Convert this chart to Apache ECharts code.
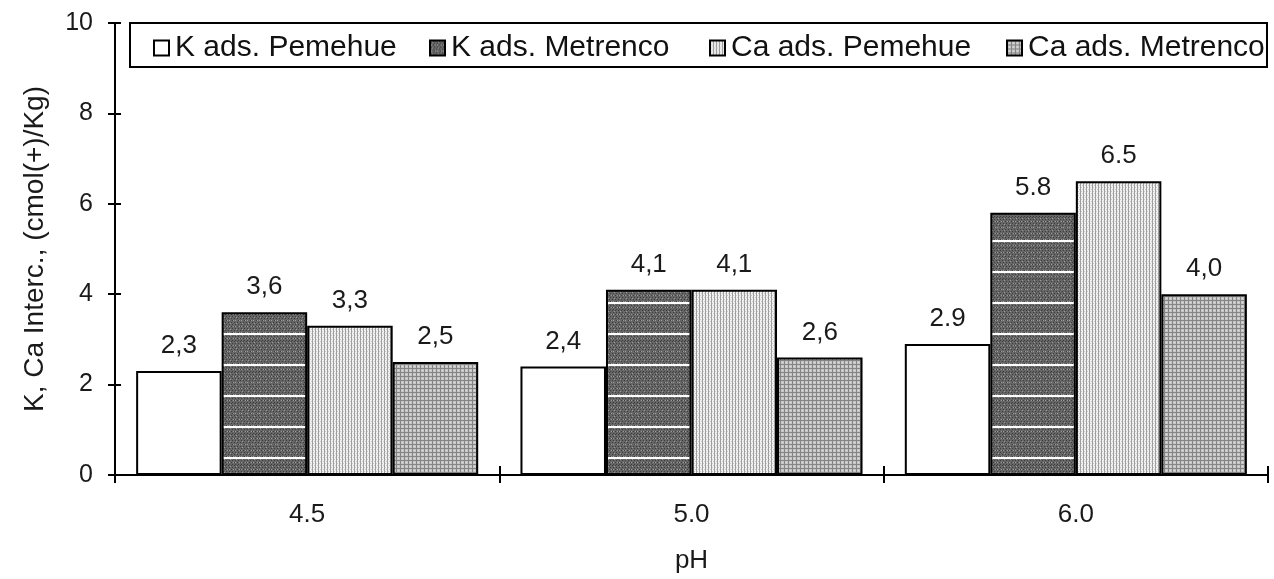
<!DOCTYPE html>
<html><head><meta charset="utf-8">
<script src="https://cdn.jsdelivr.net/npm/echarts@6/dist/echarts.min.js"></script>
<style>html,body{margin:0;padding:0;background:#fff}#c{width:1274px;height:579px}</style>
</head><body><div id="c"></div>
<script>
const categories = ['4.5', '5.0', '6.0'];
const seriesNames = ['K ads. Pemehue', 'K ads. Metrenco', 'Ca ads. Pemehue', 'Ca ads. Metrenco'];
const kPemehue = [2.3, 2.4, 2.9];
const kMetrenco = [3.6, 4.1, 5.8];
const caPemehue = [3.3, 4.1, 6.5];
const caMetrenco = [2.5, 2.6, 4.0];
const kPemehueLabels = ['2,3', '2,4', '2.9'];
const kMetrencoLabels = ['3,6', '4,1', '5.8'];
const caPemehueLabels = ['3,3', '4,1', '6.5'];
const caMetrencoLabels = ['2,5', '2,6', '4,0'];
const yTicks = [0, 2, 4, 6, 8, 10];

const FONT = 'Liberation Sans, Arial, sans-serif';
function pat(w, h, draw) {
  const c = document.createElement('canvas'); c.width = w; c.height = h;
  const g = c.getContext('2d'); draw(g, w, h); return c;
}
const p1 = '#ffffff';
const p2 = pat(6, 31, (g, w, h) => {
  g.fillStyle = '#666666'; g.fillRect(0, 0, w, h);
  g.fillStyle = '#3e3e3e';
  for (let y = 0; y < h; y += 2) for (let x = (y % 4 === 0 ? 0 : 1); x < w; x += 3) g.fillRect(x, y, 1, 1);
  g.fillStyle = '#9c9c9c';
  for (let y = 1; y < h; y += 3) for (let x = (y % 2) + 1; x < w; x += 4) g.fillRect(x, y, 1, 1);
  g.fillStyle = '#ffffff'; g.fillRect(0, 23, w, 2);
});
const p3 = pat(3, 4, (g, w, h) => {
  g.fillStyle = '#f2f2f2'; g.fillRect(0, 0, w, h);
  g.fillStyle = '#9f9f9f'; g.fillRect(0, 0, 1, h);
  g.fillStyle = '#cccccc'; g.fillRect(2, 1, 1, 1); g.fillRect(1, 3, 1, 1);
});
const p4 = pat(4, 4, (g, w, h) => {
  g.fillStyle = '#c6c6c6'; g.fillRect(0, 0, w, h);
  g.fillStyle = '#858585'; g.fillRect(0, 0, w, 1); g.fillRect(0, 0, 1, h);
  g.fillStyle = '#e0e0e0'; g.fillRect(2, 2, 1, 1);
});

function mk(name, data, labels, fill) {
  return {
    name, type: 'bar', data, barGap: '0%', barCategoryGap: '11%',
    itemStyle: { color: typeof fill === 'string' ? fill : { image: fill, repeat: 'repeat' }, borderColor: '#000', borderWidth: 2 },
    label: { show: true, position: 'top', distance: 12, fontFamily: FONT, fontSize: 26, color: '#1a1a1a',
      formatter: p => labels[p.dataIndex] }
  };
}
const legendLefts = [148, 424, 704, 1001];
const legends = seriesNames.map((n, i) => ({
  left: legendLefts[i], top: 28, itemWidth: 15, itemHeight: 15, itemGap: 0, icon: 'rect',
  textStyle: { fontFamily: FONT, fontSize: 30, color: '#111', padding: [0, 0, 0, 1] },
  data: [n]
}));

const chart = echarts.init(document.getElementById('c'));
chart.setOption({
  animation: false,
  grid: { left: 115, right: 6, top: 23, bottom: 101 },
  graphic: [{ type: 'rect', shape: { x: 130, y: 23, width: 1137, height: 44 }, style: { fill: 'none', stroke: '#000', lineWidth: 2 }, z: 10 }],
  legend: legends,
  xAxis: [{
    type: 'category', data: categories,
    axisLine: { lineStyle: { color: '#000', width: 2 } },
    axisTick: { show: true, length: 8, lineStyle: { color: '#000', width: 2 } },
    axisLabel: { fontFamily: FONT, fontSize: 26, color: '#1a1a1a', margin: 27 },
    name: 'pH', nameLocation: 'middle', nameGap: 73,
    nameTextStyle: { fontFamily: FONT, fontSize: 26, color: '#1a1a1a' }
  }, {
    type: 'category', data: categories, position: 'bottom',
    axisLine: { show: false },
    axisTick: { show: true, inside: true, length: 9, lineStyle: { color: '#000', width: 2 } },
    axisLabel: { show: false }
  }],
  yAxis: [{
    type: 'value', min: 0, max: 10, interval: 2,
    splitLine: { show: false },
    axisLine: { show: true, lineStyle: { color: '#000', width: 2 } },
    axisTick: { show: true, length: 7, lineStyle: { color: '#000', width: 2 } },
    axisLabel: { fontFamily: FONT, fontSize: 25, color: '#1a1a1a', margin: 22,
      formatter: v => yTicks.includes(v) ? String(v) : '' },
    name: 'K, Ca Interc., (cmol(+)/Kg)', nameLocation: 'middle', nameGap: 66,
    nameTextStyle: { fontFamily: FONT, fontSize: 28, color: '#1a1a1a' }
  }, {
    type: 'value', min: 0, max: 10, interval: 2, position: 'left',
    splitLine: { show: false }, axisLine: { show: false },
    axisTick: { show: true, inside: true, length: 6, lineStyle: { color: '#000', width: 2 } },
    axisLabel: { show: false }
  }],
  series: [
    mk(seriesNames[0], kPemehue, kPemehueLabels, p1),
    mk(seriesNames[1], kMetrenco, kMetrencoLabels, p2),
    mk(seriesNames[2], caPemehue, caPemehueLabels, p3),
    mk(seriesNames[3], caMetrenco, caMetrencoLabels, p4)
  ]
});
</script></body></html>
